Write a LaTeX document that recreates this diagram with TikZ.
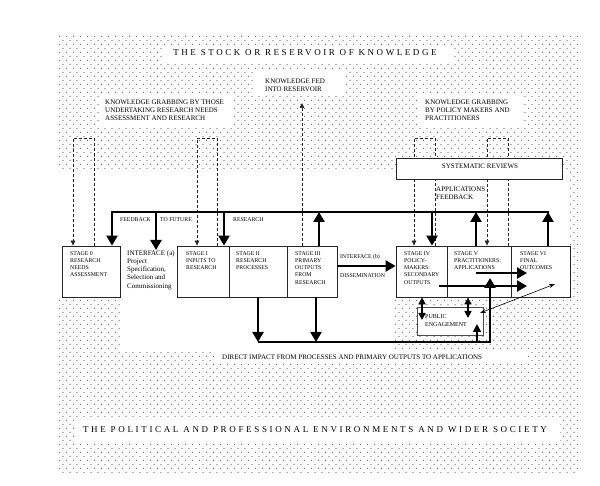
\documentclass[tikz,border=0pt]{standalone}
\usepackage{fontspec}
\setmainfont{Liberation Serif}
\newfontfamily\spacedfont[LetterSpace=28.5]{Liberation Serif}
\newfontfamily\widefont[LetterSpace=29.5]{Liberation Serif}
\usetikzlibrary{arrows.meta,patterns}
\pgfdeclarelayer{bg}
\pgfsetlayers{bg,main}
\pgfdeclarepatternformonly{refdots}{\pgfqpoint{0pt}{0pt}}{\pgfqpoint{7.3pt}{8pt}}{\pgfqpoint{7.3pt}{8pt}}{%
  \pgfpathcircle{\pgfqpoint{1.8pt}{2pt}}{0.6pt}%
  \pgfpathcircle{\pgfqpoint{5.45pt}{6pt}}{0.6pt}%
  \pgfusepath{fill}}
\begin{document}
\begin{tikzpicture}[x=1pt,y=-1pt,
  stagebox/.style={draw=black!85, line width=0.8pt, fill=white, inner sep=0pt},
  stxt/.style={font=\fontsize{5.8}{7.3}\selectfont, align=left, inner sep=0pt, anchor=north west},
  ltxt/.style={font=\fontsize{7}{8}\selectfont, align=left, inner sep=0pt, anchor=north west},
  heavy/.style={line width=2.7pt},
  bigtip/.style={-{Triangle[width=11pt,length=10pt]}},
  midtip/.style={line width=1.6pt, {Triangle[width=7pt,length=7pt]}-{Triangle[width=7pt,length=7pt]}},
  dashline/.style={line width=0.7pt, dash pattern=on 3pt off 2pt, black!85},
  dashtip/.style={-{Triangle[width=4.5pt,length=5pt]}},
  spaced/.style={font=\spacedfont\fontsize{9}{10}\selectfont, inner sep=0pt},
  widespaced/.style={font=\widefont\fontsize{9}{10}\selectfont, inner sep=0pt}
]
\useasboundingbox (0,0) rectangle (600,486);

% boxes
\node[stagebox, minimum width=58pt, minimum height=51pt] (s0) at (91,271.5) {};
\node[stagebox, minimum width=52pt, minimum height=51pt] (s1) at (203,271.5) {};
\node[stagebox, minimum width=58pt, minimum height=51pt] (s2) at (258,271.5) {};
\node[stagebox, minimum width=50pt, minimum height=51pt] (s3) at (312,271.5) {};
\node[stagebox, minimum width=51pt, minimum height=51pt] (s4) at (421.5,271.5) {};
\node[stagebox, minimum width=64pt, minimum height=51pt] (s5) at (479,271.5) {};
\node[stagebox, minimum width=59pt, minimum height=51pt] (s6) at (540.5,271.5) {};
\node[stagebox, minimum width=166pt, minimum height=21pt] (sr) at (479,168.5) {};
\node[stagebox, draw=black!70, line width=0.6pt, minimum width=66pt, minimum height=28pt] (pe) at (450,321) {};

% texts
\node[spaced] (reservoir) at (305,53) {THE STOCK OR RESERVOIR OF KNOWLEDGE};
\node[widespaced] (society) at (315,430) {THE POLITICAL AND PROFESSIONAL ENVIRONMENTS AND WIDER SOCIETY};
\node[ltxt] (fed) at (265,78.6) {KNOWLEDGE FED\\INTO RESERVOIR};
\node[ltxt] (grabL) at (105,99.6) {KNOWLEDGE GRABBING BY THOSE\\UNDERTAKING RESEARCH NEEDS\\ASSESSMENT AND RESEARCH};
\node[ltxt] (grabR) at (425,99.6) {KNOWLEDGE GRABBING\\BY POLICY MAKERS AND\\PRACTITIONERS};
\node[font=\fontsize{7}{8}\selectfont, inner sep=0pt] (srt) at (480,166) {SYSTEMATIC REVIEWS};
\node[ltxt] (appfb) at (436,186.6) {APPLICATIONS\\FEEDBACK};
\node[stxt] (fbt1) at (120,217) {FEEDBACK};
\node[stxt] (fbt2) at (160,217) {TO FUTURE};
\node[stxt] (fbt3) at (233,217) {RESEARCH};
\node[stxt] (t0) at (70,251) {STAGE 0\\RESEARCH\\NEEDS\\ASSESSMENT};
\node[ltxt, font=\fontsize{7}{8.3}\selectfont] (ifa) at (127,250) {INTERFACE (a)\\Project\\Specification,\\Selection and\\Commissioning};
\node[stxt] (t1) at (186,251) {STAGE I\\INPUTS TO\\RESEARCH};
\node[stxt] (t2) at (236,251) {STAGE II\\RESEARCH\\PROCESSES};
\node[stxt] (t3) at (295,251) {STAGE III\\PRIMARY\\OUTPUTS\\FROM\\RESEARCH};
\node[stxt] (ifb) at (340,254.5) {INTERFACE (b)};
\node[stxt] (dis) at (340,273) {DISSEMINATION};
\node[stxt] (t4) at (404,251) {STAGE IV\\POLICY-\\MAKERS:\\SECONDARY\\OUTPUTS};
\node[stxt] (t5) at (454,251) {STAGE V\\PRACTITIONERS:\\APPLICATIONS};
\node[stxt] (t6) at (520,251) {STAGE VI\\FINAL\\OUTCOMES};
\node[stxt, font=\fontsize{6}{8}\selectfont] (pet) at (425,314) {PUBLIC\\ENGAGEMENT};
\node[ltxt] (dit) at (222,354.6) {DIRECT IMPACT FROM PROCESSES AND PRIMARY OUTPUTS TO APPLICATIONS};

% coordinates
\coordinate (fbL) at (112,212);
\coordinate (fbR) at (548,212);
\coordinate (fbA) at (156,212);
\coordinate (fbI) at (224,212);
\coordinate (fbIII) at (319,212);
\coordinate (fbIV) at (432,212);
\coordinate (fbV) at (476,212);
\coordinate (ib) at (337,266);
\coordinate (di2) at (258,342);
\coordinate (di3) at (316,342);
\coordinate (diP) at (477,342);
\coordinate (diR) at (490,342);
\coordinate (s5in) at (490,278);
\coordinate (peIn) at (477,324);
\coordinate (a1s) at (476,273);
\coordinate (a1e) at (527,273);
\coordinate (a2s) at (439,286);
\coordinate (a2e) at (527,286);
\coordinate (d1) at (422,320);
\coordinate (d2) at (468,318);
\coordinate (tpe) at (480,313);
\coordinate (ts6) at (555,284);
\coordinate (k0a) at (94,138);
\coordinate (k0b) at (73,138);
\coordinate (k1a) at (217,138);
\coordinate (k1b) at (197,138);
\coordinate (k4a) at (435,138);
\coordinate (k4b) at (414,138);
\coordinate (k5a) at (508,138);
\coordinate (k5b) at (487,138);
\coordinate (kfed) at (302,103);

\begin{pgfonlayer}{bg}
  \fill[pattern=refdots, pattern color=black!85] (57,35) rectangle (578,472);
  \fill[white] (57,172) -- (570,172) -- (570,297) -- (395,297) -- (395,350) -- (122,350) -- (122,297) -- (57,297) -- cycle;
  \fill[white] (163,45) rectangle (453,62);
  \fill[white] (255,72) rectangle (345,95);
  \fill[white] (100,95) rectangle (233,125);
  \fill[white] (417,95) rectangle (523,125);
  \fill[white] (214,350) rectangle (528,364);
  \fill[white] (75,420) rectangle (560,441);
  \draw[dashline,dashtip] (k0a |- s0.north) -- (k0a) -- (k0b) -- (k0b |- s0.north);
  \draw[dashline,dashtip] (k1a |- s1.north) -- (k1a) -- (k1b) -- (k1b |- s1.north);
  \draw[dashline,dashtip] (k4a |- s4.north) -- (k4a) -- (k4b) -- (k4b |- s4.north);
  \draw[dashline,dashtip] (k5a |- s5.north) -- (k5a) -- (k5b) -- (k5b |- s5.north);
  \draw[dashline,dashtip] (kfed |- s3.north) -- (kfed);
\end{pgfonlayer}

% feedback bar
\draw[heavy, line cap=rect] (fbL) -- (fbR);
\draw[heavy,bigtip] (fbL) -- (fbL |- s0.north);
\draw[heavy,bigtip] (fbA) -- (fbA |- ifa.north);
\draw[heavy,bigtip] (fbI) -- (fbI |- s1.north);
\draw[heavy,bigtip] (fbIII |- s3.north) -- (fbIII);
\draw[heavy,bigtip] (fbIV) -- (fbIV |- s4.north);
\draw[heavy,bigtip] (fbV |- s5.north) -- (fbV);
\draw[heavy,bigtip] (fbR |- s6.north) -- (fbR);

% interface b
\draw[heavy,bigtip] (s3.east |- ib) -- (s4.west |- ib);

% direct impact
\draw[heavy,bigtip] (di2 |- s2.south) -- (di2);
\draw[heavy,bigtip] (di3 |- s3.south) -- (di3);
\draw[heavy,bigtip,line join=miter] (di2) -- (diR) -- (s5in);
\draw[line width=1.8pt,-{Triangle[width=8pt,length=8pt]}] (diP) -- (peIn);

% stage V arrows
\draw[heavy,bigtip] (a1s) -- (a1e);
\draw[heavy,bigtip] (a2s) -- (a2e);

% public engagement
\draw[midtip] (d1 |- s4.south) -- (d1);
\draw[midtip] (d2 |- s5.south) -- (d2);
\draw[line width=0.6pt, {Stealth[length=6pt,width=4pt]}-{Stealth[length=6pt,width=4pt]}] (tpe) -- (ts6);
\end{tikzpicture}
\end{document}
